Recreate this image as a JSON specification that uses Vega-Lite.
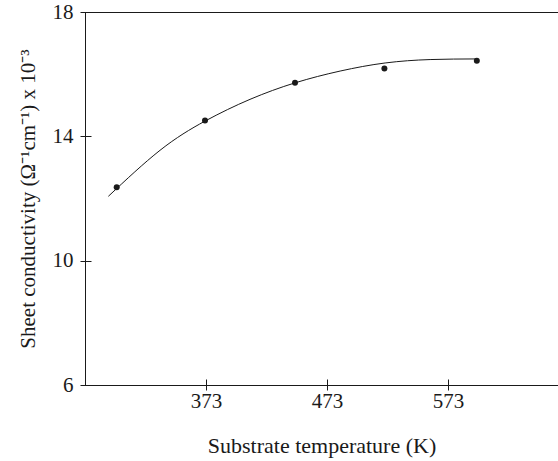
{
  "$schema": "https://vega.github.io/schema/vega-lite/v6.json",
  "autosize": "none",
  "padding": {"left": 85, "top": 12, "right": 0, "bottom": 76},
  "width": 473,
  "height": 373,
  "config": {
    "view": {"stroke": "#1a1a1a", "strokeWidth": 1},
    "font": "Liberation Serif, Times New Roman, serif",
    "axis": {
      "grid": false,
      "domain": false,
      "tickColor": "#1a1a1a",
      "labelColor": "#1a1a1a",
      "titleColor": "#1a1a1a",
      "labelFont": "Liberation Serif, Times New Roman, serif",
      "titleFont": "Liberation Serif, Times New Roman, serif",
      "labelFontSize": 21,
      "titleFontSize": 21,
      "titleFontWeight": "normal",
      "offset": -6,
      "tickSize": 11
    }
  },
  "datasets": {
    "points": [
      {"temperature": 299.2, "conductivity": 12.36},
      {"temperature": 372.2, "conductivity": 14.51},
      {"temperature": 446.6, "conductivity": 15.72},
      {"temperature": 520.5, "conductivity": 16.18},
      {"temperature": 596.9, "conductivity": 16.43}
    ],
    "curve": [
      {"temperature": 292.3, "conductivity": 12.07},
      {"temperature": 335.0, "conductivity": 13.55},
      {"temperature": 372.2, "conductivity": 14.49},
      {"temperature": 409.4, "conductivity": 15.19},
      {"temperature": 446.6, "conductivity": 15.72},
      {"temperature": 483.9, "conductivity": 16.1},
      {"temperature": 521.1, "conductivity": 16.36},
      {"temperature": 558.3, "conductivity": 16.47},
      {"temperature": 597.2, "conductivity": 16.49}
    ]
  },
  "layer": [
    {
      "data": {"name": "curve"},
      "mark": {"type": "line", "interpolate": "natural", "color": "#1a1a1a", "strokeWidth": 1},
      "encoding": {
        "x": {
          "field": "temperature", "type": "quantitative",
          "scale": {"domain": [273, 664], "nice": false, "zero": false},
          "axis": {"values": [373, 473, 573], "title": "Substrate temperature (K)", "labelPadding": 0, "titlePadding": 24, "titleFontSize": 22}
        },
        "y": {
          "field": "conductivity", "type": "quantitative",
          "scale": {"domain": [6, 18], "nice": false, "zero": false},
          "axis": {"values": [6, 10, 14, 18], "title": "Sheet conductivity (Ω⁻¹cm⁻¹) x 10⁻³", "labelPadding": 7, "titlePadding": 14}
        }
      }
    },
    {
      "data": {"name": "points"},
      "mark": {"type": "point", "filled": true, "shape": "circle", "size": 36, "color": "#1a1a1a", "opacity": 1},
      "encoding": {
        "x": {"field": "temperature", "type": "quantitative"},
        "y": {"field": "conductivity", "type": "quantitative"}
      }
    }
  ]
}
